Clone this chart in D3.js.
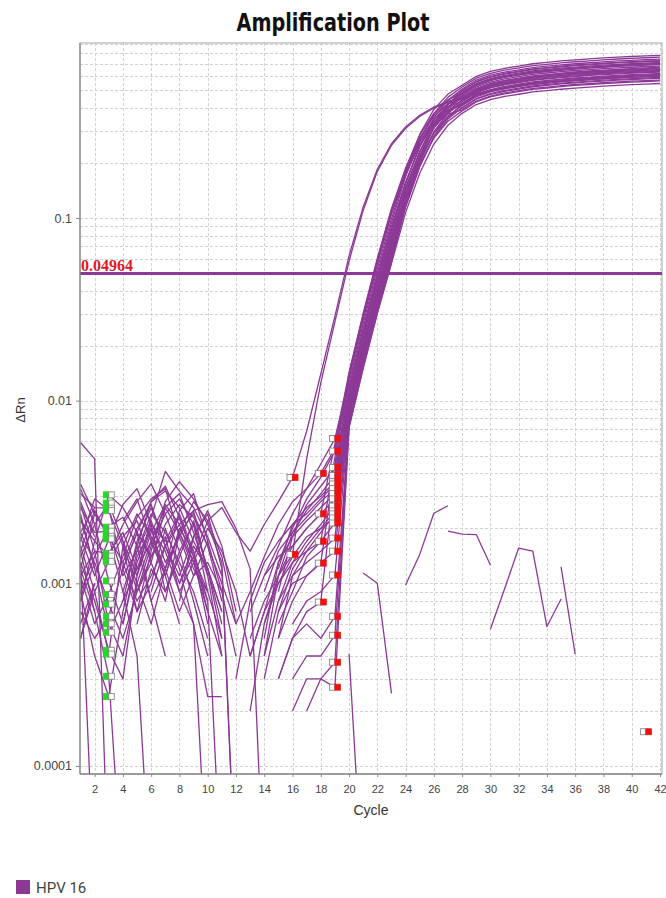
<!DOCTYPE html>
<html>
<head>
<meta charset="utf-8">
<script src="https://cdn.jsdelivr.net/npm/d3@7"></script>
<style>
  body { margin: 0; background: #fff; }
  svg { display: block; }
</style>
</head>
<body>
<svg id="chart" width="666" height="898"></svg>
<script>
// ---- data -------------------------------------------------------------
const cycles = d3.range(1, 43);            // cycle numbers 1..42
const xTickValues = d3.range(2, 43, 2);    // 2, 4, ... 42
const yTickValues = [0.1, 0.01, 0.001, 0.0001];
const thresholdValue = 0.04964;
const targetName = "HPV 16";
const N = null;                            // ΔRn <= 0, not drawn on log axis

// ΔRn per cycle (cycles 1..42) for each well

// wells whose baseline ends at cycle 16
const earlyWells = [
  [.0015,.0025,.0018,.0013,.002,.0027,.0016,.001,.0014,.0022,.0026,.0019,.0015,.0021,.0028,.0038,
   .0068,.014,.029,.062,.115,.185,.255,.315,.365,.405,.435,.46,.48,.50,.515,.53,.54,.55,.56,.567,.574,.58,.586,.59,.595,.60],
  [.0008,.0013,N,.0016,.001,.0006,.0012,.0019,.0013,.0007,.0004,N,.0005,.0008,.0011,.00144,
   .0048,.0125,.027,.058,.11,.18,.25,.31,.36,.40,.43,.455,.478,.497,.513,.527,.539,.549,.558,.566,.573,.579,.585,.59,.594,.598]
];

// wells whose baseline ends at cycle 18
const midWells = [
  [.0023,.0012,N,.0022,.0029,.0017,.0011,.0019,.0024,.0016,.001,.0006,.0009,.0014,.0021,.0028,.0033,.004,.0055,
   .0138,.029,.058,.109,.179,.267,.347,.404,.437,.488,.52,.541,.556,.572,.582,.592,.6,.608,.615,.621,.626,.631,.635],
  [.0006,.001,N,.0009,.0016,.0028,.0032,.0026,.0017,.0012,.0007,N,N,.0006,.0011,.0016,.002,.0024,.0058,
   .0143,.03,.06,.1125,.188,.284,.374,.443,.482,.54,.574,.597,.614,.631,.642,.654,.663,.671,.679,.686,.691,.697,.702],
  [.0013,.00002,N,.0006,.0014,.002,.0015,.0009,.0013,.002,.0015,.0009,.0004,.0007,.001,.0013,.0015,.0017,.0049,
   .0135,.0284,.0568,.1065,.172,.253,.323,.371,.391,.437,.465,.484,.498,.512,.521,.53,.538,.544,.551,.556,.561,.565,.569],
  [.0035,.0024,N,N,.0009,.0013,.0026,.0019,.0012,.0009,.0005,N,N,.0003,.0007,.001,.0011,.00129,.0045,
   .0141,.0296,.0592,.111,.184,.275,.36,.422,.45,.503,.535,.557,.573,.589,.6,.611,.619,.627,.634,.641,.646,.652,.656],
  [.0011,.0015,.0006,.0004,.001,.0017,.0011,.002,.0015,.0008,N,N,N,N,.0003,.0005,.0007,.00079,.0038,
   .0137,.0288,.0576,.108,.176,.26,.335,.388,.416,.466,.495,.515,.53,.545,.555,.565,.572,.579,.586,.592,.597,.602,.606]
];

// wells whose baseline ends at cycle 19
const mainWells = [
  [.0022,.0017,.00305,.0026,.0019,.0028,.0034,.0023,.0014,.0009,N,N,.0007,.0011,.0016,.0024,.0033,.0045,.0062,
   .0133,.028,.056,.105,.184,.287,.393,.477,.533,.597,.635,.660,.679,.699,.711,.724,.734,.743,.752,.759,.766,.772,.777],
  [.0014,.0021,.00275,.0017,.0011,.0023,.0041,.0032,.0026,.0018,.0011,N,N,.0005,.0013,.002,.0029,.0038,.0053,
   .0125,.0264,.0528,.099,.173,.269,.367,.444,.496,.555,.59,.614,.631,.649,.661,.673,.682,.69,.699,.706,.712,.717,.722],
  [.0031,.0026,.00258,.0012,.0007,.0015,.0028,.0036,.0029,.0021,.0013,.00002,N,N,.0009,.0018,.0027,.0034,.0043,
   .0119,.025,.05,.094,.168,.268,.373,.459,.521,.583,.62,.645,.663,.682,.694,.707,.717,.725,.734,.742,.748,.754,.759],
  [.0009,.0014,.00203,.0023,.0016,.0008,.0012,.0025,.0031,.0017,N,N,N,.0004,.0011,.0019,.0025,.0031,.0039,
   .0114,.024,.048,.09,.157,.245,.335,.406,.454,.508,.54,.562,.578,.594,.605,.616,.624,.632,.639,.646,.651,.657,.661],
  [.0026,.0019,.00193,.0011,.0015,.0024,.0019,.0013,.0009,.0005,N,.0003,.0008,.0013,.0017,.0021,.0026,.003,.0036,
   .011,.0232,.0464,.087,.156,.247,.344,.423,.479,.536,.57,.593,.61,.627,.638,.65,.659,.667,.675,.682,.687,.693,.698],
  [.0012,.0024,.00181,.0009,.0004,.00002,N,.0008,.0018,.0025,.0016,.0007,N,N,.0012,.0021,.0024,.0029,.0035,
   .0106,.0224,.0448,.084,.147,.229,.313,.38,.424,.475,.505,.525,.54,.556,.566,.576,.584,.591,.598,.604,.609,.614,.618],
  [.0018,.0011,.00175,.0027,.0033,.0021,.0009,.0014,.0022,.0012,.0006,N,N,.0009,.0015,.0019,.0023,.0028,.0033,
   .0105,.022,.044,.0825,.153,.248,.353,.441,.508,.569,.605,.629,.647,.666,.678,.69,.699,.708,.716,.724,.73,.736,.741],
  [.0027,.0015,.00146,.0019,.0012,.0017,.0026,.0031,.0019,.0011,N,N,.0004,.0007,.0013,.0018,.0022,.0026,.0031,
   .01,.021,.042,.079,.144,.232,.328,.407,.466,.522,.555,.577,.594,.611,.622,.633,.642,.649,.657,.664,.669,.675,.679],
  [.0008,.0017,.00141,.0021,.0028,.0035,.0024,.0015,.0008,.0004,N,N,N,.0011,.0014,.0016,.002,.0024,.0029,
   .0097,.0204,.0408,.0765,.135,.212,.291,.356,.399,.447,.475,.494,.508,.523,.532,.542,.549,.556,.562,.568,.573,.578,.581],
  [.0016,.0009,.00132,.0018,.0022,.0013,.0008,.0019,.0028,.0022,.0014,.0006,N,N,.0008,.0013,.0017,.0021,.00265,
   .0095,.02,.04,.075,.137,.22,.311,.386,.441,.494,.525,.546,.562,.578,.588,.599,.607,.614,.622,.628,.633,.638,.643],
  [.0033,.0021,.00103,.0006,.0013,.0021,.0017,.0024,.0015,.0007,N,N,N,N,.0007,.0012,.0016,.002,.00249,
   .0092,.0194,.0388,.0728,.139,.229,.331,.419,.487,.545,.58,.603,.621,.638,.65,.661,.67,.679,.687,.694,.699,.705,.71],
  [.0011,.0006,.00087,.0014,.0023,.0029,.0033,.0018,.0011,.0013,.0009,N,N,N,.0005,.0011,.0015,.0019,.0024,
   .009,.019,.038,.0713,.129,.207,.291,.361,.412,.461,.49,.51,.524,.539,.549,.559,.566,.573,.58,.586,.591,.596,.6],
  [.0019,.0013,.00077,.0005,.0009,.0016,.0024,.0029,.0021,.0012,.0005,N,.0002,.0006,.001,.0014,.0018,.002,.00228,
   .0088,.0186,.0372,.0698,.132,.217,.313,.394,.458,.512,.545,.567,.583,.6,.61,.621,.63,.638,.645,.652,.657,.663,.667],
  [.0007,.0005,.00066,.0012,.0019,.0014,.0021,.0027,.0023,.0016,.0008,N,N,N,.0006,.0009,.0014,.0017,.00214,
   .0086,.018,.036,.0675,.122,.196,.274,.339,.386,.432,.46,.478,.492,.506,.515,.524,.532,.538,.545,.55,.555,.559,.563],
  [.0024,.0012,.00054,.0008,.0017,.0026,.0016,.0011,.0018,.0024,.0012,.00002,N,.0004,.0008,.0011,.0013,.0015,.00177,
   .0084,.0176,.0352,.066,.125,.205,.296,.373,.433,.484,.515,.536,.551,.567,.577,.587,.595,.603,.61,.616,.621,.626,.63],
  [.0013,.0008,.00043,.0003,.0011,.0019,.0027,.0021,.0013,.0008,.00002,N,N,N,.0005,.0008,.0011,.0013,.0015,
   .0081,.017,.034,.0638,.126,.213,.314,.403,.475,.531,.565,.588,.605,.622,.633,.644,.653,.661,.669,.676,.681,.687,.692],
  [.0005,.0009,.00041,.0016,.0024,.0018,.0012,.0007,.0011,.0017,.0009,.0004,N,N,N,.0006,.0008,.0009,.00111,
   .0079,.0166,.0332,.0623,.117,.192,.276,.348,.403,.451,.48,.499,.514,.528,.538,.547,.555,.562,.568,.574,.579,.584,.588],
  [.0015,.0007,.00031,.00002,N,.0009,.0016,.0023,.0014,.0006,N,N,N,N,.0003,.0005,.0006,.0005,.00066,
   .0076,.016,.032,.06,.119,.2,.295,.378,.445,.498,.53,.551,.567,.583,.594,.604,.613,.62,.628,.634,.639,.644,.649],
  [.0009,.0004,.00024,.0007,.0015,.0022,.0013,.0018,.0025,.0011,.0004,N,N,N,N,.0003,.0004,.0004,.00052,
   .0074,.0156,.0312,.0585,.114,.191,.28,.358,.42,.47,.5,.52,.535,.55,.56,.57,.578,.585,.592,.598,.603,.608,.612],
  [.0028,.0018,N,N,.0006,.0012,.0009,.0015,.0021,.0009,N,N,N,N,N,.0002,.0003,.0003,.00037,
   .0071,.015,.03,.0563,.107,.176,.254,.322,.374,.418,.445,.463,.476,.49,.498,.507,.514,.521,.527,.532,.537,.541,.545],
  [.0017,.0029,.0025,.0016,.0007,.001,.002,.0012,.0006,.00002,N,N,N,N,N,N,.0002,.0003,.00027,
   .0072,.0152,.0304,.057,.12,.21,.318,.417,.5,.559,.595,.619,.637,.655,.666,.678,.688,.696,.704,.712,.718,.724,.728]
];

// wells with no amplification
const flatWells = [
  [.0019,.0026,N,.0008,.0012,.002,.0011,.0006,N,N,N,N,N,N,N,N,N,N,N,N,
   .00114,.001,.00025,N,N,N,N,N,N,N,N,N,N,N,N,N,N,N,N,N,N,N],
  [.0012,.0007,N,.0017,.0009,.0014,.0018,.0009,.0006,.00024,.00024,N,N,N,N,N,N,N,N,N,N,N,N,
   .00098,.00144,.00242,.00266,N,N,N,N,N,N,N,N,N,N,N,N,N,N,N],
  [N,N,N,.0013,.0008,.0011,.0016,.0021,.0025,.0027,.0028,.002,.0012,.00002,N,N,N,N,N,N,N,N,N,N,N,N,
   .00193,.00186,.00185,.00126,N,N,N,N,N,N,N,N,N,N,N,N],
  [.0059,.0048,.00002,N,N,N,N,.001,.0016,.0012,.0007,N,N,N,N,N,N,N,N,N,N,N,N,N,N,N,N,N,N,
   .00056,.00093,.00156,.0015,.00058,.00082,N,N,N,N,N,N,N],
  [.0005,.001,N,.0012,.0019,.0008,.0004,N,N,N,N,N,N,N,N,N,N,N,N,.00041,.00002,N,N,N,N,N,N,N,N,N,N,N,N,N,
   .00123,.00041,N,N,N,N,.000154,N]
];

// baseline window (start / end cycle) per group
const baselineStart = 3;
const earlyBaselineEnd = 16;
const midBaselineEnd = 18;
const mainBaselineEnd = 19;
const flatBaselineEnd = [19, 19, 19, 19, 41];

// ---- layout -----------------------------------------------------------
const plot = { left: 80, right: 662, top: 43, bottom: 774 };
const purple = "#8c3996";

const svg = d3.select("#chart");

const x = d3.scaleLinear().domain([1, 42]).range([80.5, 660]);
const y = d3.scaleLog().domain([9.04e-5, 0.908]).range([plot.bottom, plot.top]);

// wells as one list with their baseline window
const wells = [];
earlyWells.forEach(v => wells.push({ values: v, end: earlyBaselineEnd }));
midWells.forEach(v => wells.push({ values: v, end: midBaselineEnd }));
mainWells.forEach(v => wells.push({ values: v, end: mainBaselineEnd }));
flatWells.forEach((v, i) => wells.push({ values: v, end: flatBaselineEnd[i] }));

// ---- grid -------------------------------------------------------------
const grid = svg.append("g").attr("stroke", "#d2d2d2").attr("stroke-width", 1)
  .attr("stroke-dasharray", "3,2").attr("fill", "none");

grid.selectAll("line.v").data(xTickValues).join("line")
  .attr("x1", d => Math.round(x(d)) + 0.5).attr("x2", d => Math.round(x(d)) + 0.5)
  .attr("y1", plot.top).attr("y2", plot.bottom);

const minorY = [];
[-5, -4, -3, -2, -1].forEach(e => {
  for (let m = 1; m <= 9; m++) {
    const v = m * Math.pow(10, e);
    if (v >= y.domain()[0] && v <= y.domain()[1]) minorY.push(v);
  }
});
grid.selectAll("line.h").data(minorY).join("line")
  .attr("x1", plot.left).attr("x2", plot.right)
  .attr("y1", d => Math.round(y(d)) + 0.5).attr("y2", d => Math.round(y(d)) + 0.5);

// frame
svg.append("rect")
  .attr("x", plot.left).attr("y", plot.top)
  .attr("width", plot.right - plot.left).attr("height", plot.bottom - plot.top)
  .attr("fill", "none").attr("stroke", "#b4b4b4").attr("stroke-width", 1.2);

// ---- curves -----------------------------------------------------------
svg.append("clipPath").attr("id", "plotClip").append("rect")
  .attr("x", plot.left).attr("y", plot.top)
  .attr("width", plot.right - plot.left).attr("height", plot.bottom - plot.top);

const line = d3.line()
  .defined(d => d.v != null && d.v > 0)
  .x(d => x(d.c))
  .y(d => y(d.v));

const curves = svg.append("g").attr("clip-path", "url(#plotClip)");
curves.selectAll("path").data(wells).join("path")
  .attr("d", w => line(cycles.map((c, i) => ({ c, v: w.values[i] }))))
  .attr("fill", "none")
  .attr("stroke", purple)
  .attr("stroke-width", 1.3)
  .attr("stroke-linejoin", "round");

// threshold
const yThr = y(thresholdValue);
svg.append("line")
  .attr("x1", plot.left).attr("x2", plot.right)
  .attr("y1", yThr).attr("y2", yThr)
  .attr("stroke", purple).attr("stroke-width", 3);

svg.append("text")
  .attr("x", 81).attr("y", yThr - 2.5)
  .attr("font-family", "'Liberation Serif', 'Times New Roman', serif")
  .attr("font-weight", "bold").attr("font-size", 16)
  .attr("fill", "#e01a22")
  .text(d3.format(".5f")(thresholdValue));

// ---- baseline markers -------------------------------------------------
const markers = svg.append("g").attr("clip-path", "url(#plotClip)");
const sz = 5.5, hh = 6;

function drawPair(cx, cy, leftFill, rightFill) {
  markers.append("rect").attr("x", cx - sz).attr("y", cy - hh / 2)
    .attr("width", sz).attr("height", hh)
    .attr("fill", leftFill).attr("stroke", leftFill === "#ffffff" ? "#7a7a7a" : leftFill)
    .attr("stroke-width", 0.8);
  markers.append("rect").attr("x", cx).attr("y", cy - hh / 2)
    .attr("width", sz).attr("height", hh)
    .attr("fill", rightFill).attr("stroke", rightFill === "#ffffff" ? "#7a7a7a" : rightFill)
    .attr("stroke-width", 0.8);
}

wells.forEach(w => {
  const vs = w.values[baselineStart - 1];
  if (vs != null && vs > 0) drawPair(x(baselineStart), y(vs), "#20dc20", "#ffffff");
});
wells.forEach(w => {
  const ve = w.values[w.end - 1];
  if (ve != null && ve > 0) drawPair(x(w.end), y(ve), "#ffffff", "#ee1111");
});

// ---- axes -------------------------------------------------------------
const axisColor = "#8a8a8a";
svg.append("line").attr("x1", plot.left).attr("x2", plot.left)
  .attr("y1", plot.top).attr("y2", plot.bottom)
  .attr("stroke", axisColor).attr("stroke-width", 1.3);
svg.append("line").attr("x1", plot.left).attr("x2", plot.right)
  .attr("y1", plot.bottom).attr("y2", plot.bottom)
  .attr("stroke", axisColor).attr("stroke-width", 1.3);

const yAxis = d3.axisLeft(y).tickValues(yTickValues)
  .tickFormat(d3.format("~g")).tickSize(4).tickPadding(4);
const gy = svg.append("g").attr("transform", `translate(${plot.left},0)`).call(yAxis);
gy.select(".domain").remove();
gy.selectAll(".tick line").attr("stroke", axisColor);
gy.selectAll(".tick text")
  .attr("font-family", "'Liberation Sans', Arial, sans-serif")
  .attr("font-size", 12.5).attr("fill", "#444");

const xAxis = d3.axisBottom(x).tickValues(xTickValues).tickSize(3).tickPadding(8);
const gx = svg.append("g").attr("transform", `translate(0,${plot.bottom})`).call(xAxis);
gx.select(".domain").remove();
gx.selectAll(".tick line").attr("stroke", axisColor);
gx.selectAll(".tick text")
  .attr("font-family", "'Liberation Sans', Arial, sans-serif")
  .attr("font-size", 11).attr("fill", "#444");

// axis titles
svg.append("text")
  .attr("x", (plot.left + plot.right) / 2).attr("y", 815)
  .attr("text-anchor", "middle")
  .attr("font-family", "'Liberation Sans', Arial, sans-serif")
  .attr("font-size", 14).attr("fill", "#333")
  .text("Cycle");

svg.append("text")
  .attr("transform", "translate(25,410) rotate(-90)")
  .attr("text-anchor", "middle")
  .attr("font-family", "'Liberation Sans', Arial, sans-serif")
  .attr("font-size", 13).attr("fill", "#333")
  .text("ΔRn");

// title
svg.append("text")
  .attr("x", 333).attr("y", 31)
  .attr("text-anchor", "middle")
  .attr("font-family", "'Liberation Sans Narrow', 'DejaVu Sans Condensed', sans-serif")
  .attr("font-weight", "bold").attr("font-size", 24).attr("fill", "#111")
  .attr("textLength", 193).attr("lengthAdjust", "spacingAndGlyphs")
  .text("Amplification Plot");

// legend
svg.append("rect").attr("x", 16).attr("y", 880).attr("width", 14).attr("height", 14)
  .attr("fill", purple);
svg.append("text").attr("x", 36).attr("y", 893)
  .attr("font-family", "Roboto, 'Noto Sans', sans-serif")
  .attr("font-size", 15).attr("fill", "#444")
  .text(targetName);
</script>
</body>
</html>
